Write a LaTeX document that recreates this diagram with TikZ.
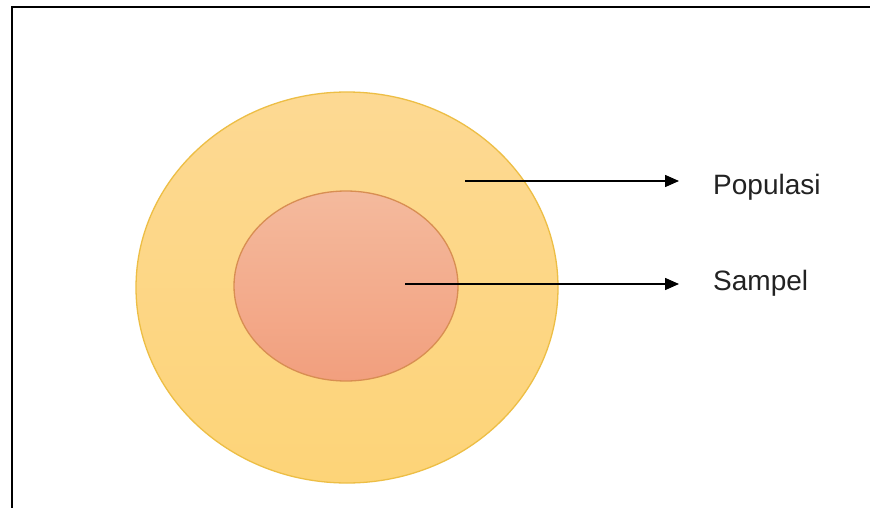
\documentclass[tikz,border=0pt]{standalone}
\usepackage{fontspec}
\setmainfont{Liberation Sans}
\usetikzlibrary{shapes.geometric,arrows.meta}
\definecolor{outerfillA}{HTML}{FDD993}
\definecolor{outerfillB}{HTML}{FDD478}
\definecolor{outerline}{HTML}{EDBE45}
\definecolor{innerfillA}{HTML}{F4BA9D}
\definecolor{innerfillB}{HTML}{F29F7E}
\definecolor{innerline}{HTML}{D88E52}
\definecolor{textgray}{HTML}{222222}
\tikzset{
  outerbox/.style={ellipse, draw=outerline, line width=1.3pt, top color=outerfillA, bottom color=outerfillB, minimum width=422pt, minimum height=391pt, inner sep=0pt},
  innerbox/.style={ellipse, draw=innerline, line width=1.3pt, top color=innerfillA, bottom color=innerfillB, minimum width=224pt, minimum height=190pt, inner sep=0pt},
  labeltext/.style={anchor=base west, inner sep=0pt, text=textgray, font=\fontsize{28}{32}\selectfont},
  pointer/.style={line width=1.5pt, -{Triangle[length=14pt,width=12pt]}},
  frameline/.style={line width=2.6pt, black}
}
\begin{document}
\begin{tikzpicture}[x=1pt,y=-1pt]
\useasboundingbox (0,0) rectangle (870,508);
\fill[white] (0,0) rectangle (870,508);
\draw[frameline] (12,508) -- (12,7) -- (870,7);
\node[outerbox] (pop) at (347,287.5) {};
\node[innerbox] (sam) at (346,286) {};
\coordinate (popstart) at (465,181);
\coordinate (samstart) at (405,284);
\coordinate (popend) at (679,181);
\coordinate (samend) at (679,284);
\node[labeltext] (poplabel) at (713,194) {Populasi};
\node[labeltext] (samlabel) at (713,290) {Sampel};
\draw[pointer] (popstart) -- (popend);
\draw[pointer] (samstart) -- (samend);
\end{tikzpicture}
\end{document}
